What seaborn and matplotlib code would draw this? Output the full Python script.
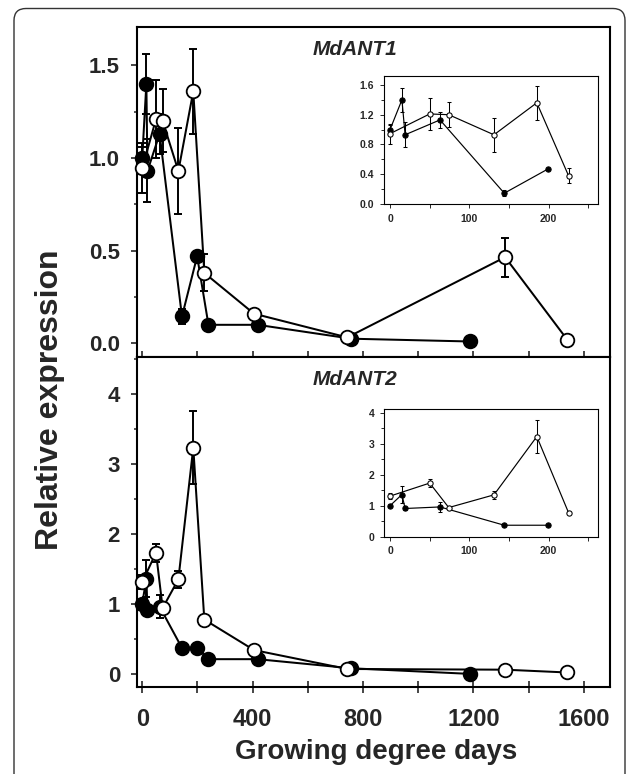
import numpy as np
import pandas as pd
import matplotlib
matplotlib.use("Agg")
import matplotlib.pyplot as plt
import seaborn as sns
from matplotlib.ticker import MultipleLocator, FixedLocator
import matplotlib.patches as mpatches
from matplotlib.transforms import IdentityTransform

# ---------------- data ----------------
gdd_filled = [0, 15, 19, 63, 144, 199, 240, 418, 758, 1188]
gdd_open = [0, 50, 74, 131, 185, 225, 405, 743, 1315, 1540]

ant1_filled = [1.00, 1.40, 0.93, 1.13, 0.145, 0.47, 0.10, 0.10, 0.025, 0.01]
ant1_filled_err = [0.06, 0.16, 0.17, 0.11, 0.04, 0, 0, 0, 0, 0]
ant1_open = [0.945, 1.21, 1.20, 0.93, 1.36, 0.38, 0.16, 0.032, 0.465, 0.02]
ant1_open_err = [0.135, 0.21, 0.17, 0.23, 0.23, 0.10, 0, 0, 0.105, 0]

ant2_filled = [1.00, 1.36, 0.91, 0.96, 0.37, 0.37, 0.21, 0.21, 0.08, 0.00]
ant2_filled_err = [0.05, 0.26, 0.06, 0.16, 0, 0, 0, 0, 0, 0]
ant2_open = [1.31, 1.73, 0.94, 1.35, 3.23, 0.775, 0.34, 0.07, 0.06, 0.02]
ant2_open_err = [0.10, 0.13, 0, 0.12, 0.52, 0, 0, 0, 0, 0]

inset_n = 6  # points shown in the insets (GDD <= 225)

genes = ["MdANT1", "MdANT2"]
x_ticklabels = ["0", "400", "800", "1200", "1600"]

# ---------------- style ----------------
sns.set_style("ticks")
plt.rcParams["font.family"] = ["Liberation Sans", "DejaVu Sans"]
plt.rcParams["font.weight"] = "bold"

W, H = 635, 774
fig = plt.figure(figsize=(W / 100, H / 100), dpi=100)


def add_ax(l, t, r, b):
    return fig.add_axes([l / W, 1 - b / H, (r - l) / W, (b - t) / H])


ax1 = add_ax(136.7, 27, 610, 356.5)
ax2 = add_ax(136.7, 356.5, 610, 686.5)
in1 = add_ax(384, 76, 598.3, 204)
in2 = add_ax(384, 409, 598.3, 536.7)


def draw(ax, x, y, err, filled, ms, lw, capsize, elw, zbase):
    x = np.asarray(x, float)
    y = np.asarray(y, float)
    err = np.asarray(err, float)
    m = err > 0
    if m.any():
        ax.errorbar(x[m], y[m], yerr=err[m], fmt="none", ecolor="black",
                    elinewidth=elw, capsize=capsize, capthick=elw,
                    zorder=zbase, clip_on=False)
    df = pd.DataFrame({"x": x, "y": y})
    sns.lineplot(data=df, x="x", y="y", ax=ax, color="black", lw=lw,
                 marker="o", markersize=ms,
                 markerfacecolor="black" if filled else "white",
                 markeredgecolor="black", markeredgewidth=lw * 0.9,
                 estimator=None, sort=False, legend=False,
                 zorder=zbase + 1, clip_on=False)
    ax.set_xlabel("")
    ax.set_ylabel("")


# main panels
for ax, yf, ef, yo, eo in [(ax1, ant1_filled, ant1_filled_err, ant1_open, ant1_open_err),
                           (ax2, ant2_filled, ant2_filled_err, ant2_open, ant2_open_err)]:
    draw(ax, gdd_filled, yf, ef, True, 9.8, 1.45, 3.2, 1.4, 2)
    draw(ax, gdd_open, yo, eo, False, 9.8, 1.45, 3.2, 1.4, 4)

# insets
for ax, yf, ef, yo, eo in [(in1, ant1_filled, ant1_filled_err, ant1_open, ant1_open_err),
                           (in2, ant2_filled, ant2_filled_err, ant2_open, ant2_open_err)]:
    n = inset_n
    draw(ax, gdd_filled[:n], yf[:n], ef[:n], True, 3.8, 0.85, 1.4, 0.75, 2)
    draw(ax, gdd_open[:n], yo[:n], eo[:n], False, 3.8, 0.85, 1.4, 0.75, 4)

# ---------------- axes formatting ----------------
for ax in (ax1, ax2):
    ax.set_xlim(-20, 1695)
    for s in ax.spines.values():
        s.set_visible(True)
        s.set_linewidth(1.5)
        s.set_color("black")
    ax.xaxis.set_major_locator(FixedLocator([0, 400, 800, 1200, 1600]))
    ax.xaxis.set_minor_locator(FixedLocator([200, 600, 1000, 1400]))
    ax.tick_params(axis="y", which="major", direction="out", length=4, width=1.2,
                   labelsize=16, pad=8)
    ax.tick_params(axis="y", which="minor", direction="out", length=2.5, width=1.1)
    ax.tick_params(axis="y", right=False)
    ax.set_facecolor("white")

ax1.set_ylim(-0.071, 1.707)
ax1.yaxis.set_major_locator(MultipleLocator(0.5))
ax1.yaxis.set_minor_locator(MultipleLocator(0.25))
ax1.yaxis.set_major_formatter(matplotlib.ticker.FormatStrFormatter("%.1f"))
ax1.tick_params(axis="x", which="both", direction="in", length=4.3, width=1.2,
                labelbottom=False, top=False)

ax2.set_ylim(-0.18, 4.53)
ax2.yaxis.set_major_locator(MultipleLocator(1))
ax2.yaxis.set_minor_locator(MultipleLocator(0.5))
ax2.tick_params(axis="x", which="both", direction="inout", length=8.6, width=1.2,
                top=False)
ax2.tick_params(axis="x", which="major", labelsize=17, pad=11)
ax2.set_xticklabels(x_ticklabels)

ax1.text(770, 1.586, genes[0], style="italic", weight="bold", size=15,
         ha="center", va="center")
ax2.text(770, 4.20, genes[1], style="italic", weight="bold", size=15,
         ha="center", va="center")

for ax in (in1, in2):
    ax.set_xlim(-7.6, 262.5)
    for s in ax.spines.values():
        s.set_visible(True)
        s.set_linewidth(0.8)
        s.set_color("black")
    ax.xaxis.set_major_locator(MultipleLocator(100))
    ax.xaxis.set_minor_locator(MultipleLocator(50))
    ax.tick_params(which="both", direction="out", width=0.7, labelsize=7.5,
                   top=False, right=False, pad=4)
    ax.tick_params(which="major", length=3)
    ax.tick_params(which="minor", length=3)
    ax.tick_params(axis="y", which="minor", length=2)
    ax.set_facecolor("white")

in1.set_ylim(0, 1.72)
in1.yaxis.set_major_locator(MultipleLocator(0.4))
in1.yaxis.set_minor_locator(MultipleLocator(0.2))
in1.yaxis.set_major_formatter(matplotlib.ticker.FormatStrFormatter("%.1f"))
in2.set_ylim(0, 4.12)
in2.yaxis.set_major_locator(MultipleLocator(1))
in2.yaxis.set_minor_locator(MultipleLocator(0.5))

fig.text(50 / W, 1 - 400 / H, "Relative expression", rotation=90, size=23,
         weight="bold", ha="center", va="center")
fig.text(376 / W, 1 - 752 / H, "Growing degree days", size=20,
         weight="bold", ha="center", va="center")

# outer rounded frame
frame = mpatches.FancyBboxPatch((14, -30), 611, H - 8.5 + 30,
                                boxstyle="round,pad=0,rounding_size=12",
                                transform=IdentityTransform(), fill=False,
                                edgecolor="#333333", linewidth=1.0)
fig.patches.append(frame)

fig.savefig("out.png", dpi=100)
